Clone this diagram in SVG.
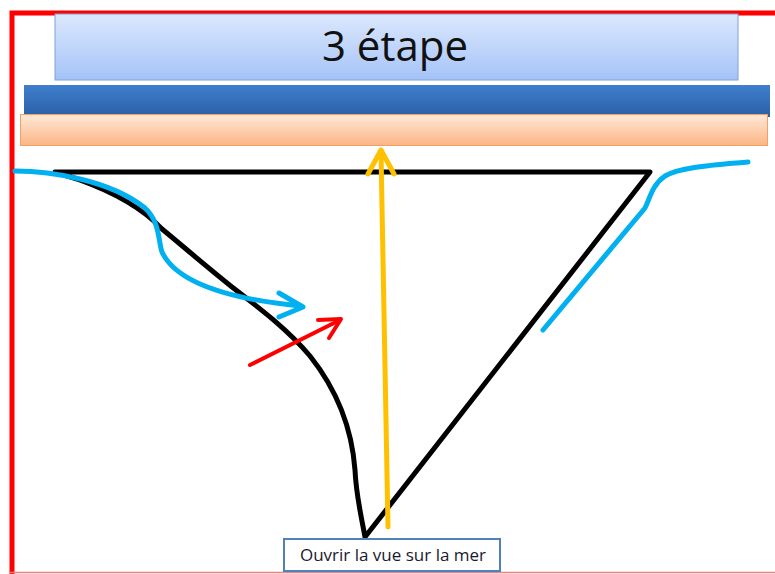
<svg xmlns="http://www.w3.org/2000/svg" width="775" height="574" viewBox="0 0 775 574">
<defs>
<linearGradient id="gTitle" x1="0" y1="0" x2="0" y2="1"><stop offset="0" stop-color="#dce8fd"/><stop offset="1" stop-color="#a5c3f8"/></linearGradient>
<linearGradient id="gDark" x1="0" y1="0" x2="0" y2="1"><stop offset="0" stop-color="#3f7fcd"/><stop offset="1" stop-color="#2a5fa5"/></linearGradient>
<linearGradient id="gPeach" x1="0" y1="0" x2="0" y2="1"><stop offset="0" stop-color="#ffe9d9"/><stop offset="1" stop-color="#fbb584"/></linearGradient>
</defs>
<style>
.line{fill:none;stroke-linecap:round;stroke-linejoin:round}
.blk{stroke:#000;stroke-width:5}
.blu{stroke:#00b0f0;stroke-width:5}
.yel{stroke:#ffc000;stroke-width:5}
.red{stroke:#ff0000;stroke-width:4}
.t{font-family:"Open Sans","Liberation Sans",sans-serif}
</style>
<rect width="775" height="574" fill="#fff"/>
<g id="frame">
<path d="M12 574 V13 H775" fill="none" stroke="#ff0000" stroke-width="5"/>
<line x1="10" y1="572.5" x2="775" y2="572.5" stroke="#f08080" stroke-width="1.5"/>
</g>
<g id="title">
<rect x="55" y="14" width="683" height="66" fill="url(#gTitle)" stroke="#7ea2d6" stroke-width="1"/>
<text class="t" x="395" y="61" font-size="42" text-anchor="middle" fill="#111">3 étape</text>
</g>
<g id="bar-dark">
<rect x="24" y="85" width="746" height="32" fill="url(#gDark)"/>
</g>
<g id="bar-peach">
<rect x="20.5" y="114.5" width="747" height="31" fill="url(#gPeach)" stroke="#f4a064" stroke-width="1"/>
</g>
<g id="connectors">
<path class="line blk" d="M55 172 H650 L365 537 C362 520 356 495 355 470 C352 430 337 390 310 356 C288 330 262 310 232 287 C202 263 178 242 162 229 C147 213 122 195 77 179 L55 172"/>
<path class="line blu" d="M15 171 C50 171 110 180 145 208 C160 222 158 240 162 252 C175 280 220 298 300 306"/>
<path class="line blu" d="M279 293 L303 307 L279 317"/>
<path class="line blu" d="M748 162 C715 165 680 167 665 176 C652 185 650 198 645 208 L543 330"/>
<path class="line red" d="M250 365 L340 320"/>
<path class="line red" d="M318 320 L341 319 L329 338"/>
<path class="line yel" d="M388 527 L381 152"/>
<path class="line yel" d="M368 174 L381 150 L394 174"/>
</g>
<g id="label">
<rect x="284" y="539" width="216" height="32" fill="#fff" stroke="#4f81bd" stroke-width="2"/>
<text class="t" x="393" y="561" font-size="17" text-anchor="middle" fill="#1a1a2e">Ouvrir la vue sur la mer</text>
</g>
</svg>
